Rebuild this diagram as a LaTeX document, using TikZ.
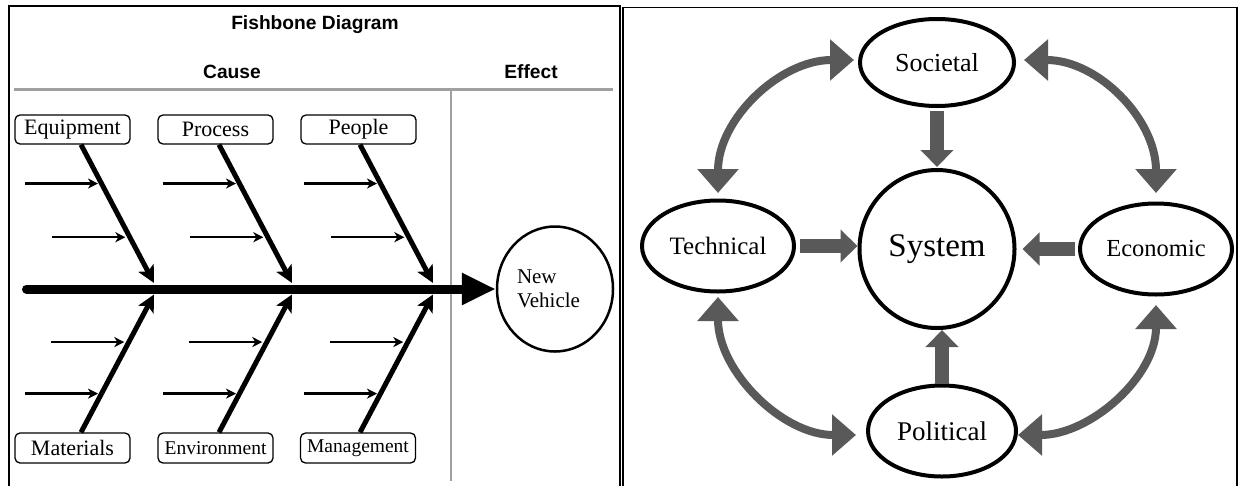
\documentclass[tikz,border=0pt]{standalone}
\usepackage{fontspec}
\setmainfont{Liberation Serif}
\newfontfamily\headfont{Liberation Sans}
\usetikzlibrary{arrows.meta,shapes.geometric,calc}
\definecolor{arrgray}{HTML}{595959}
\definecolor{rulegray}{HTML}{A0A0A0}
\begin{document}
\begin{tikzpicture}[x=1pt,y=-1pt,
  framestyle/.style={line width=1.6pt},
  rulestyle/.style={draw=rulegray, line width=3pt},
  headtext/.style={font=\headfont\bfseries\fontsize{19.2}{21}\selectfont, inner sep=0pt},
  causebox/.style={draw, rounded corners=5pt, line width=1.3pt, minimum width=115pt, minimum height=29pt, inner sep=0pt, font=\fontsize{22}{24}\selectfont},
  smallcause/.style={causebox, font=\fontsize{19.5}{22}\selectfont},
  spinestyle/.style={line width=9pt, -{Triangle[length=34pt,width=30pt]}},
  bonestyle/.style={line width=5pt, -{Stealth[length=17pt,width=17pt,inset=4pt]}},
  twigstyle/.style={line width=2.5pt, -{Stealth[length=10pt,width=10pt,inset=3pt]}},
  ring/.style={draw, ellipse, line width=4pt, inner sep=0pt},
  blockarrow/.style={color=arrgray, line width=14pt, -{Triangle[length=17pt,width=32pt]}},
  curvearrow/.style={color=arrgray, line width=8pt, {Triangle[length=24pt,width=40pt]}-{Triangle[length=24pt,width=40pt]}},
]
\useasboundingbox (0,0) rectangle (1238,485);

% ---------- frames ----------
\draw[framestyle] (9,486) -- (9,6) -- (620,6) -- (620,486);
\draw[framestyle] (623,486) -- (623,7.3) -- (1237,7.3) -- (1237,486);

% ---------- fishbone headings ----------
\node[headtext] (title) at (315,25) {Fishbone Diagram};
\node[headtext] (cause) at (232,72) {Cause};
\node[headtext] (effect) at (531,72) {Effect};
\draw[rulestyle] (14,89) -- (613,89);
\draw[draw=rulegray, line width=2.5pt] (451,89) -- (451,481);

% ---------- cause boxes ----------
\node[causebox] (eq) at (72.5,129.5) {Equipment};
\node[causebox] (pr) at (215.5,129.5) {Process};
\node[causebox] (pe) at (358.5,129.5) {People};
\node[causebox, minimum height=30pt] (ma) at (72.5,448) {Materials};
\node[smallcause, minimum height=30pt] (en) at (215.5,448) {Environment};
\node[smallcause, minimum height=30pt] (mg) at (358,448) {Management};

% ---------- effect ----------
\node[draw, ellipse, line width=2.5pt, minimum width=116pt, minimum height=125pt, inner sep=0pt, text width=76pt, align=left, font=\fontsize{21}{24.5}\selectfont] (ve) at (555,289) {New\\Vehicle};

% ---------- spine ----------
\coordinate (spinestart) at (26.5,289);
\draw[spinestyle, line cap=round] (spinestart) -- (ve.west);

% ---------- bones ----------
\coordinate (eqs) at ([xshift=8.5pt]eq.south);
\coordinate (prs) at ([xshift=3.5pt]pr.south);
\coordinate (pes) at ([xshift=1.5pt]pe.south);
\coordinate (mas) at ([xshift=8.5pt]ma.north);
\coordinate (ens) at ([xshift=3.5pt]en.north);
\coordinate (mgs) at ([xshift=2pt]mg.north);
\coordinate (eqe) at (154,283);
\coordinate (pre) at (292,283);
\coordinate (pee) at (433,283);
\coordinate (mae) at (154,294.5);
\coordinate (ene) at (292,294.5);
\coordinate (mge) at (433,294.5);

\foreach \s/\e in {eqs/eqe, prs/pre, pes/pee, mas/mae, ens/ene, mgs/mge}{
  \draw[bonestyle] (\s) -- (\e);
}

% ---------- twigs ----------
\foreach \s/\e in {eqs/eqe, prs/pre, pes/pee}{
  \draw[twigstyle] ($(\s)!0.281!(\e)$) ++(-76.5,0) -- ++(73,0);
  \draw[twigstyle] ($(\s)!0.669!(\e)$) ++(-77.5,0) -- ++(73,0);
}
\foreach \s/\e in {mas/mae, ens/ene, mgs/mge}{
  \draw[twigstyle] ($(\s)!0.655!(\e)$) ++(-77.5,0) -- ++(73,0);
  \draw[twigstyle] ($(\s)!0.281!(\e)$) ++(-76.5,0) -- ++(73,0);
}

% ---------- system diagram ----------
\node[ring, minimum width=154pt, minimum height=87pt, font=\fontsize{26}{28}\selectfont] (soc) at (937,62.5) {Societal};
\node[ring, minimum width=155pt, minimum height=158pt, font=\fontsize{33}{36}\selectfont] (sys) at (937,249) {System};
\node[ring, minimum width=152pt, minimum height=91pt, font=\fontsize{25}{27}\selectfont] (tech) at (718,246) {Technical};
\node[ring, minimum width=152pt, minimum height=91pt, font=\fontsize{24.5}{27}\selectfont] (eco) at (1156,249) {Economic};
\node[ring, minimum width=148pt, minimum height=91pt, font=\fontsize{27}{29}\selectfont] (pol) at (942,431) {Political};

% straight block arrows
\draw[blockarrow, shorten <=3pt, shorten >=1pt] (soc.south) -- (sys.north);
\draw[blockarrow, shorten <=4pt] (tech.east) -- (tech.east -| sys.west);
\draw[blockarrow, shorten <=3pt, shorten >=6pt] (eco.west) -- (eco.west -| sys.east);
\draw[blockarrow] (pol.north) -- (pol.north |- sys.south);

% curved double arrows
\draw[curvearrow] ([xshift=-4pt,yshift=2.5pt]soc.west) .. controls +(-74,0) and +(0,-74) .. ([yshift=5.5pt]tech.north);
\draw[curvearrow] ([xshift=8pt,yshift=2.5pt]soc.east) .. controls +(74,0) and +(0,-74) .. ([yshift=8.5pt]eco.north);
\draw[curvearrow] ([yshift=-3.5pt]tech.south) .. controls +(0,74) and +(-74,0) .. ([xshift=-10pt,yshift=-4pt]pol.west);
\draw[curvearrow] ([yshift=-8.5pt]eco.south) .. controls +(0,72) and +(72,0) .. ([yshift=-4pt]pol.east);

\end{tikzpicture}
\end{document}
